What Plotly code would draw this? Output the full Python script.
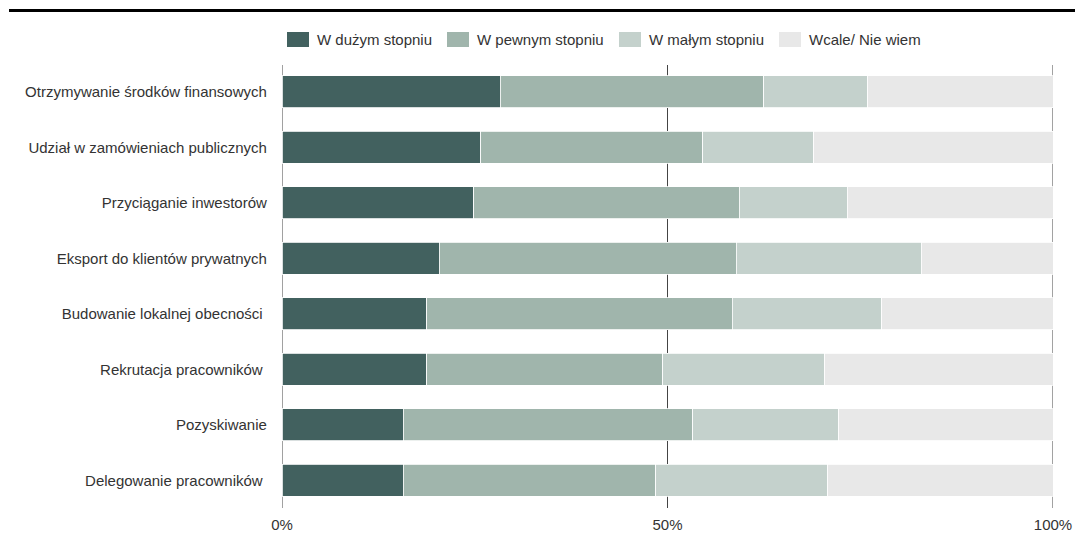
import plotly.graph_objects as go

categories = [
    "Otrzymywanie środków finansowych",
    "Udział w zamówieniach publicznych",
    "Przyciąganie inwestorów",
    "Eksport do klientów prywatnych",
    "Budowanie lokalnej obecności ",
    "Rekrutacja pracowników ",
    "Pozyskiwanie",
    "Delegowanie pracowników ",
]
series_names = ["W dużym stopniu", "W pewnym stopniu", "W małym stopniu", "Wcale/ Nie wiem"]
duzym = [28.3, 25.8, 24.9, 20.4, 18.8, 18.8, 15.7, 15.7]
pewnym = [34.2, 28.8, 34.4, 38.5, 39.6, 30.6, 37.6, 32.8]
malym = [13.5, 14.4, 14.0, 24.0, 19.4, 21.0, 18.9, 22.3]
wcale = [24.0, 31.0, 26.7, 17.1, 22.2, 29.6, 27.8, 29.2]
tick_vals = [0, 50, 100]
tick_text = ["0%", "50%", "100%"]

colors = ["#42615F", "#A0B5AC", "#C4D1CC", "#E8E8E8"]

# layout geometry (pixels)
W, H = 1075, 547
L, R, T, B = 282, 22, 64, 39
PW, PH = W - L - R, H - T - B


def px_x(px):
    return (px - L) / PW


def px_y(py):
    return (H - B - py) / PH


fig = go.Figure()
for name, vals, col in zip(series_names, [duzym, pewnym, malym, wcale], colors):
    fig.add_trace(go.Bar(
        y=categories, x=vals, name=name, orientation="h",
        marker=dict(color=col, line=dict(color="white", width=0.8)),
        hoverinfo="x+y+name", showlegend=False,
    ))

shapes = []
# vertical reference lines at 0, 50, 100
for v in tick_vals:
    shapes.append(dict(type="line", xref="x", yref="paper", x0=v, x1=v,
                       y0=0, y1=px_y(65), layer="below",
                       line=dict(color="#444444", width=1)))
# top rule
shapes.append(dict(type="line", xref="paper", yref="paper",
                   x0=px_x(9), x1=px_x(1075), y0=px_y(10.5), y1=px_y(10.5),
                   line=dict(color="black", width=3)))

# manual legend
legend_x = [287, 447, 619, 779]
annotations = []
for name, col, lx in zip(series_names, colors, legend_x):
    shapes.append(dict(type="rect", xref="paper", yref="paper",
                       x0=px_x(lx), x1=px_x(lx + 22), y0=px_y(47), y1=px_y(32),
                       fillcolor=col, line=dict(width=0)))
    annotations.append(dict(xref="paper", yref="paper", x=px_x(lx + 28), y=px_y(39.5),
                            xanchor="left", yanchor="middle", showarrow=False,
                            text=name, font=dict(size=15, color="#333333")))

fig.update_layout(
    barmode="stack",
    bargap=0.42,
    width=W, height=H,
    margin=dict(l=L, r=R, t=T, b=B, autoexpand=False),
    paper_bgcolor="white", plot_bgcolor="rgba(0,0,0,0)",
    font=dict(family="Liberation Sans, Arial, sans-serif", size=15, color="#333333"),
    xaxis=dict(range=[0, 100], tickvals=tick_vals, ticktext=tick_text,
               showgrid=False, zeroline=False, showline=False, ticks="",
               fixedrange=True, automargin=False, ticklabelstandoff=6),
    yaxis=dict(autorange="reversed", showgrid=False, zeroline=False,
               showline=False, ticks="", ticksuffix=" ", fixedrange=True,
               automargin=False, ticklabelstandoff=10),
    showlegend=False,
    shapes=shapes,
    annotations=annotations,
)

fig.write_html("out.html")
